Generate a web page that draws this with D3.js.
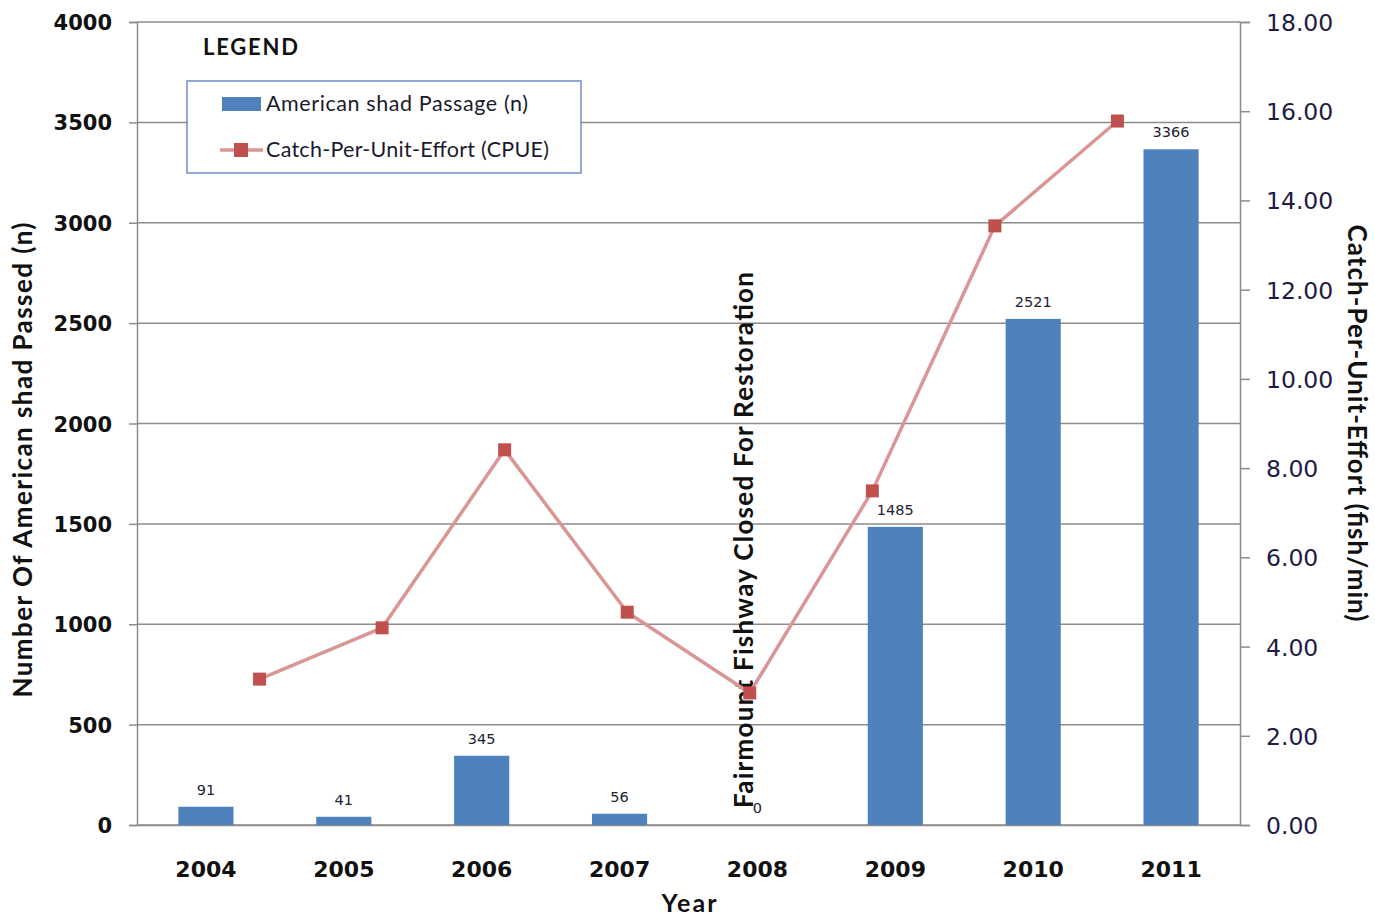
<!DOCTYPE html>
<html>
<head>
<meta charset="utf-8">
<script src="https://cdn.jsdelivr.net/npm/d3@7"></script>
<style>
  html, body { margin: 0; padding: 0; background: #fff; }
  svg { display: block; }
</style>
</head>
<body>
<svg id="chart" width="1375" height="919"></svg>
<script>
// Data
const years = ["2004", "2005", "2006", "2007", "2008", "2009", "2010", "2011"];
const passage = [91, 41, 345, 56, 0, 1485, 2521, 3366];
const cpue = [3.27, 4.42, 8.41, 4.77, 2.96, 7.49, 13.43, 15.78];
const leftTicks = [0, 500, 1000, 1500, 2000, 2500, 3000, 3500, 4000];
const rightTicks = [0, 2, 4, 6, 8, 10, 12, 14, 16, 18];

const svg = d3.select("#chart");
const plot = { left: 137, right: 1240, top: 22, bottom: 825 };

const x = d3.scaleBand().domain(years)
  .range([plot.left, plot.right]).paddingInner(0.6).paddingOuter(0.3);
// The line series sits on its own category axis with one step of padding at each end
const xLine = d3.scalePoint().domain(years)
  .range([plot.left, plot.right]).padding(1);
const yL = d3.scaleLinear().domain([0, 4000]).range([plot.bottom, plot.top]);
const yR = d3.scaleLinear().domain([0, 18]).range([plot.bottom, plot.top]);

const axisColor = "#8c8c8c";
const titleFont = "Lato";

// Horizontal gridlines
svg.append("g").selectAll("line").data(leftTicks).join("line")
  .attr("x1", plot.left).attr("x2", plot.right)
  .attr("y1", d => yL(d)).attr("y2", d => yL(d))
  .attr("stroke", axisColor).attr("stroke-width", 1.5);

// Left axis
const gL = svg.append("g").attr("transform", `translate(${plot.left},0)`)
  .call(d3.axisLeft(yL).tickValues(leftTicks).tickSize(8).tickPadding(17).tickFormat(d3.format("d")));
gL.select(".domain").attr("stroke", axisColor).attr("stroke-width", 1.5);
gL.selectAll(".tick line").attr("stroke", axisColor).attr("stroke-width", 1.5);
gL.selectAll(".tick text")
  .attr("font-family", "DejaVu Sans").attr("font-weight", "bold")
  .attr("font-size", 21).attr("fill", "#111").attr("dy", "0.36em");

// Right axis
const gR = svg.append("g").attr("transform", `translate(${plot.right},0)`)
  .call(d3.axisRight(yR).tickValues(rightTicks).tickSize(10).tickPadding(16).tickFormat(d3.format(".2f")));
gR.select(".domain").attr("stroke", axisColor).attr("stroke-width", 1.5);
gR.selectAll(".tick line").attr("stroke", axisColor).attr("stroke-width", 1.5);
gR.selectAll(".tick text")
  .attr("font-family", "DejaVu Sans").attr("font-size", 23.5)
  .attr("fill", "#1c1c44").attr("dy", "0.36em");

// Bottom axis (category labels only)
const gB = svg.append("g").attr("transform", `translate(0,${plot.bottom})`)
  .call(d3.axisBottom(x).tickSize(0).tickPadding(36));
gB.select(".domain").attr("stroke", axisColor).attr("stroke-width", 1.5);
gB.selectAll(".tick text")
  .attr("font-family", "DejaVu Sans").attr("font-weight", "bold")
  .attr("font-size", 22).attr("fill", "#111");

// Bars
svg.append("g").selectAll("rect").data(passage).join("rect")
  .attr("x", (d, i) => x(years[i]))
  .attr("width", x.bandwidth())
  .attr("y", d => yL(d))
  .attr("height", d => yL(0) - yL(d))
  .attr("fill", "#4f81bd");

// Bar value labels
svg.append("g").selectAll("text").data(passage).join("text")
  .attr("x", (d, i) => x(years[i]) + x.bandwidth() / 2)
  .attr("y", d => yL(d) - 12)
  .attr("text-anchor", "middle")
  .attr("font-family", "DejaVu Sans").attr("font-size", 14.5)
  .attr("fill", "#222233")
  .text(d => d);

// Annotation for the closed year
svg.append("text")
  .attr("transform", `translate(${x("2008") + x.bandwidth() / 2 - 4},540) rotate(-90)`)
  .attr("text-anchor", "middle")
  .attr("font-family", titleFont).attr("font-weight", "bold").attr("font-size", 26)
  .attr("textLength", 536)
  .attr("fill", "#111")
  .text("Fairmount Fishway Closed For Restoration");

// CPUE line
const line = d3.line().x((d, i) => xLine(years[i])).y(d => yR(d));
svg.append("path").datum(cpue)
  .attr("d", line).attr("fill", "none")
  .attr("stroke", "#d99694").attr("stroke-width", 3.5).attr("stroke-linejoin", "round");

const m = 13;
svg.append("g").selectAll("rect").data(cpue).join("rect")
  .attr("x", (d, i) => xLine(years[i]) - m / 2)
  .attr("y", d => yR(d) - m / 2)
  .attr("width", m).attr("height", m)
  .attr("fill", "#c0504d");

// Axis titles
svg.append("text")
  .attr("transform", "translate(32,460) rotate(-90)")
  .attr("text-anchor", "middle")
  .attr("font-family", titleFont).attr("font-weight", "bold").attr("font-size", 26)
  .attr("textLength", 475)
  .attr("fill", "#111")
  .text("Number Of American shad Passed (n)");

svg.append("text")
  .attr("transform", "translate(1348,423) rotate(90)")
  .attr("text-anchor", "middle")
  .attr("font-family", titleFont).attr("font-weight", "bold").attr("font-size", 26)
  .attr("textLength", 397)
  .attr("fill", "#111")
  .text("Catch-Per-Unit-Effort (fish/min)");

svg.append("text")
  .attr("x", 689).attr("y", 912)
  .attr("text-anchor", "middle")
  .attr("font-family", titleFont).attr("font-weight", "bold").attr("font-size", 25)
  .attr("textLength", 55)
  .attr("fill", "#111")
  .text("Year");

// Legend
svg.append("text")
  .attr("x", 203).attr("y", 55)
  .attr("font-family", titleFont).attr("font-weight", "bold").attr("font-size", 22)
  .attr("textLength", 95)
  .attr("fill", "#111")
  .text("LEGEND");

const lg = svg.append("g");
lg.append("rect")
  .attr("x", 187).attr("y", 81).attr("width", 394).attr("height", 92)
  .attr("fill", "#fff").attr("stroke", "#6d8fc7").attr("stroke-width", 1.5);
lg.append("rect")
  .attr("x", 222).attr("y", 97).attr("width", 39).attr("height", 14)
  .attr("fill", "#4f81bd");
lg.append("text")
  .attr("x", 266).attr("y", 111)
  .attr("font-family", titleFont).attr("font-size", 21.5).attr("fill", "#1a1a2e")
  .attr("textLength", 262)
  .text("American shad Passage (n)");
lg.append("line")
  .attr("x1", 220).attr("x2", 263).attr("y1", 150).attr("y2", 150)
  .attr("stroke", "#d99694").attr("stroke-width", 3.5);
lg.append("rect")
  .attr("x", 234).attr("y", 143).attr("width", 14).attr("height", 14)
  .attr("fill", "#c0504d");
lg.append("text")
  .attr("x", 266).attr("y", 157)
  .attr("font-family", titleFont).attr("font-size", 21.5).attr("fill", "#1a1a2e")
  .attr("textLength", 283)
  .text("Catch-Per-Unit-Effort (CPUE)");
</script>
</body>
</html>
